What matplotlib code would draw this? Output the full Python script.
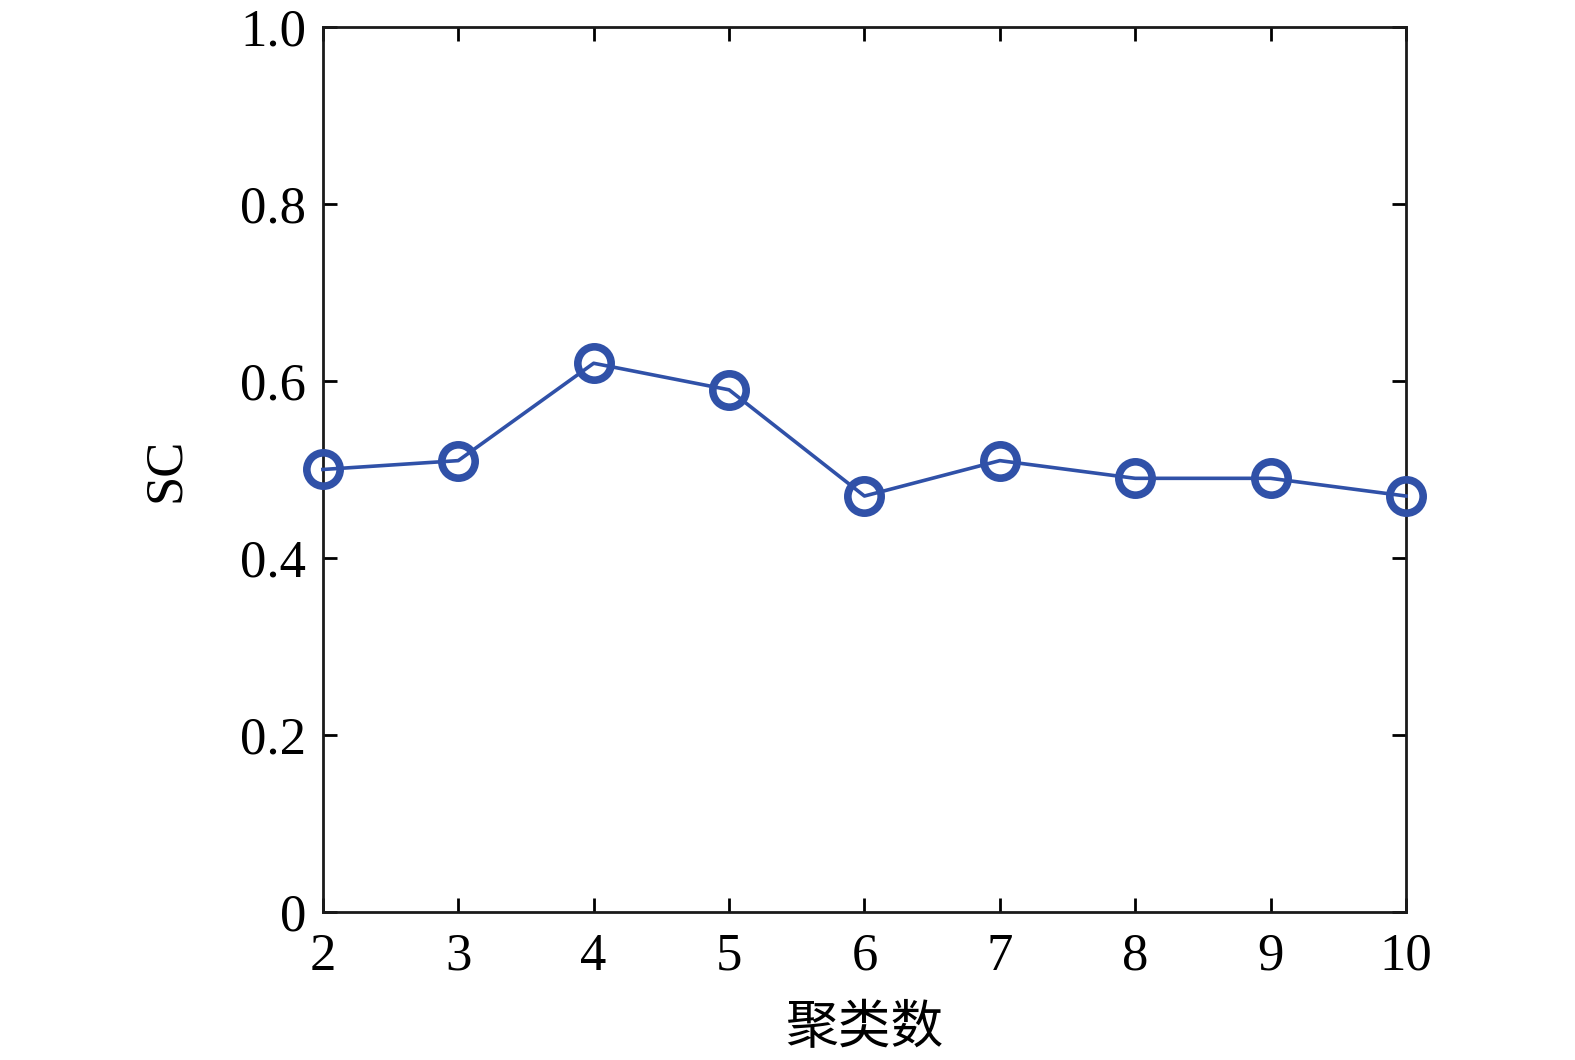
import matplotlib.pyplot as plt

# 数据
clusters = [2, 3, 4, 5, 6, 7, 8, 9, 10]
sc_values = [0.50, 0.51, 0.62, 0.59, 0.47, 0.51, 0.49, 0.49, 0.47]
y_ticks = [0, 0.2, 0.4, 0.6, 0.8, 1.0]
y_tick_labels = ['0', '0.2', '0.4', '0.6', '0.8', '1.0']

line_color = '#3051a8'

fig = plt.figure(figsize=(15.75, 10.6), dpi=100)
ax = fig.add_axes([0.205, 0.1396, 0.6877, 0.835])

ax.plot(clusters, sc_values, color=line_color, linewidth=2.6,
        marker='o', markersize=24, markerfacecolor='none',
        markeredgecolor=line_color, markeredgewidth=5.5, clip_on=False, zorder=3)

ax.set_xlim(2, 10)
ax.set_ylim(0, 1.0)
ax.set_xticks(clusters)
ax.set_yticks(y_ticks)
ax.set_yticklabels(y_tick_labels)

ax.tick_params(direction='in', length=10, width=2, top=True, right=True,
               labelsize=38)
ax.tick_params(axis='x', pad=15)
ax.tick_params(axis='y', pad=12)
for lbl in ax.get_xticklabels() + ax.get_yticklabels():
    lbl.set_fontfamily('Liberation Serif')
for sp in ax.spines.values():
    sp.set_linewidth(2)
    sp.set_color('#1a1a1a')

ax.set_ylabel('SC', fontsize=38, family='Liberation Serif', labelpad=36)
ax.set_xlabel('聚类数', fontsize=38, family=['Noto Sans CJK SC', 'DejaVu Sans'], labelpad=14)

fig.savefig('out.png', dpi=100)
